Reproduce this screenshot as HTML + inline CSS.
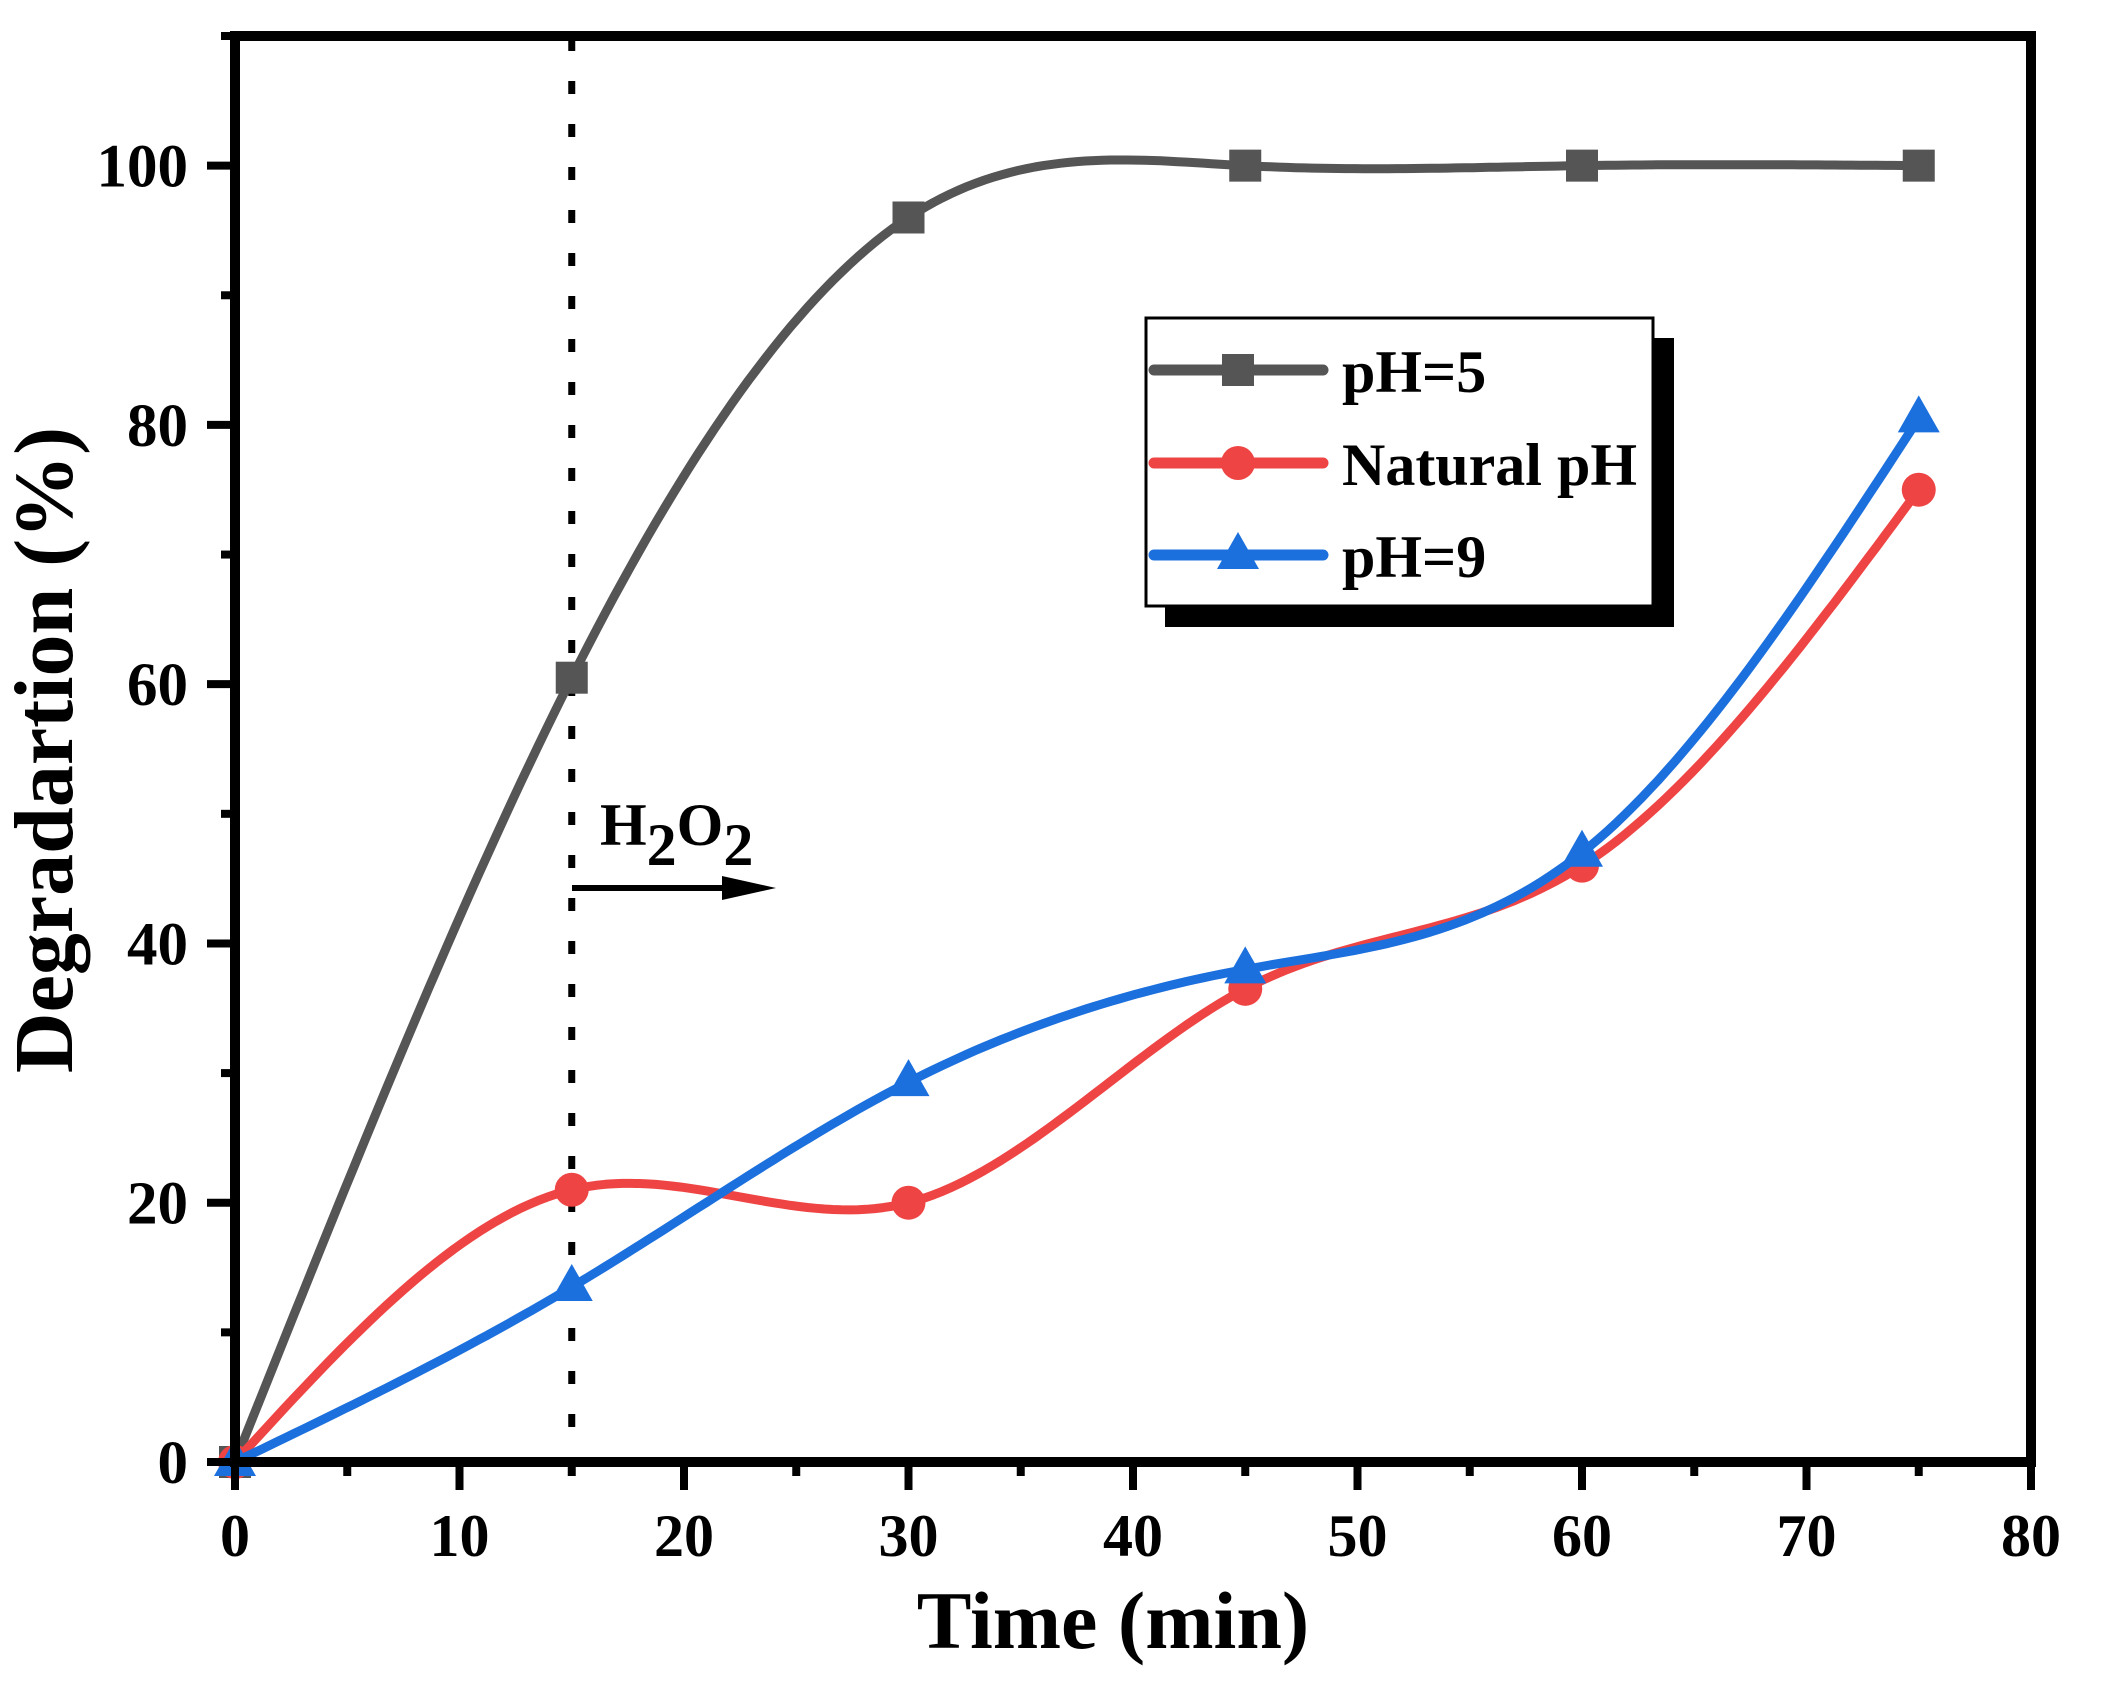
<!DOCTYPE html>
<html><head><meta charset="utf-8"><style>
html,body{margin:0;padding:0;background:#fff;}
svg{display:block;}
text{font-family:"Liberation Serif","Times New Roman",serif;font-weight:bold;fill:#000;}
</style></head>
<body>
<svg id="chart" width="2107" height="1682" viewBox="0 0 2107 1682" xmlns="http://www.w3.org/2000/svg">
<g id="plot"></g>
</svg>
<script>
const timeValues = [0, 15, 30, 45, 60, 75];
const ph5Values = [0, 60.5, 96, 100, 100, 100];
const naturalValues = [0, 21, 20, 36.5, 46, 75];
const ph9Values = [0, 13.5, 29.3, 38, 47, 80.5];
const xTickLabels = [0, 10, 20, 30, 40, 50, 60, 70, 80];
const yTickLabels = [0, 20, 40, 60, 80, 100];
const seriesNames = ["pH=5", "Natural pH", "pH=9"];

const NS = "http://www.w3.org/2000/svg";
const L = 235, R = 2031, T = 36, B = 1462;
const xMin = 0, xMax = 80, yMin = 0, yMax = 110;
function xs(v){ return L + (v - xMin) / (xMax - xMin) * (R - L); }
function ys(v){ return B - (v - yMin) / (yMax - yMin) * (B - T); }
const g = document.getElementById('plot');
function mk(tag, attrs, parent){
  const e = document.createElementNS(NS, tag);
  for (const k in attrs) e.setAttribute(k, attrs[k]);
  (parent || g).appendChild(e);
  return e;
}

// natural cubic spline
function spline(xa, ya){
  const n = xa.length, h = [], a = [], l = [1], mu = [0], z = [0], c = new Array(n).fill(0), b = [], d = [];
  for (let i = 0; i < n - 1; i++) h.push(xa[i+1] - xa[i]);
  for (let i = 1; i < n - 1; i++) a[i] = 3/h[i]*(ya[i+1]-ya[i]) - 3/h[i-1]*(ya[i]-ya[i-1]);
  for (let i = 1; i < n - 1; i++){
    l[i] = 2*(xa[i+1]-xa[i-1]) - h[i-1]*mu[i-1];
    mu[i] = h[i]/l[i];
    z[i] = (a[i] - h[i-1]*z[i-1])/l[i];
  }
  l[n-1] = 1; z[n-1] = 0;
  for (let j = n - 2; j >= 0; j--){
    c[j] = z[j] - mu[j]*c[j+1];
    b[j] = (ya[j+1]-ya[j])/h[j] - h[j]*(c[j+1]+2*c[j])/3;
    d[j] = (c[j+1]-c[j])/(3*h[j]);
  }
  let p = "";
  for (let j = 0; j < n - 1; j++){
    for (let s = 0; s <= 40; s++){
      const t = h[j]*s/40;
      const y = ya[j] + b[j]*t + c[j]*t*t + d[j]*t*t*t;
      p += (p ? "L" : "M") + xs(xa[j]+t).toFixed(1) + "," + ys(y).toFixed(1);
    }
  }
  return p;
}

// dashed H2O2 line
const dl = mk('line', {x1: xs(15), x2: xs(15), y1: T+2, y2: B, stroke: '#000', 'stroke-width': 7, 'stroke-dasharray': '13,30'});



// series
const series = [
  {vals: ph5Values, color: '#555555', marker: 'square', name: 'series-ph5'},
  {vals: naturalValues, color: '#EF4444', marker: 'circle', name: 'series-natural-ph'},
  {vals: ph9Values, color: '#1C70DD', marker: 'triangle', name: 'series-ph9'}
];
function marker(type, cx, cy, color, parent){
  let e;
  if (type === 'square') e = mk('rect', {x: cx-16, y: cy-16, width: 32, height: 32, fill: color}, parent);
  else if (type === 'circle') e = mk('circle', {cx: cx, cy: cy, r: 17, fill: color}, parent);
  else e = mk('polygon', {points: `${cx},${cy-23} ${cx+21},${cy+14} ${cx-21},${cy+14}`, fill: color}, parent);
  return e;
}
series.forEach(s => {
  const sg = mk('g', {});
  
  
  const p = mk('path', {d: spline(timeValues, s.vals), fill: 'none', stroke: s.color, 'stroke-width': 9, 'stroke-linejoin': 'round'}, sg);
  
  
  timeValues.forEach((t, i) => {
    const m = marker(s.marker, xs(t), ys(s.vals[i]), s.color, sg);
    
    
  });
});

// frame
const fr = mk('rect', {x: L, y: T, width: R-L, height: B-T, fill: 'none', stroke: '#000', 'stroke-width': 10});



// x ticks
for (let v = 0; v <= 80; v += 5){
  const major = v % 10 === 0;
  const t = mk('line', {x1: xs(v), x2: xs(v), y1: B, y2: B + (major ? 28 : 14), stroke: '#000', 'stroke-width': 8});
  
  
}
xTickLabels.forEach(v => {
  const t = mk('text', {x: xs(v), y: 1556, 'text-anchor': 'middle', 'font-size': 60});
  t.textContent = v;
  
  
});
// y ticks
for (let v = 0; v <= 110; v += 10){
  const major = v % 20 === 0;
  const t = mk('line', {x1: L - (major ? 28 : 14), x2: L, y1: ys(v), y2: ys(v), stroke: '#000', 'stroke-width': 8});
  
  
}
yTickLabels.forEach(v => {
  const t = mk('text', {x: 188, y: ys(v) + 21, 'text-anchor': 'end', 'font-size': 61});
  t.textContent = v;
  
  
});

// axis titles
const xt = mk('text', {x: (L+R)/2 - 20, y: 1648, 'text-anchor': 'middle', 'font-size': 82});
xt.textContent = 'Time (min)';


const yt = mk('text', {x: 0, y: 0, 'text-anchor': 'middle', 'font-size': 84, transform: 'translate(72,750) rotate(-90)'});
yt.textContent = 'Degradartion (%)';



// H2O2 annotation
const ag = mk('g', {});


mk('line', {x1: 572, x2: 730, y1: 888, y2: 888, stroke: '#000', 'stroke-width': 6}, ag);
mk('polygon', {points: '722,876 776,888 722,900', fill: '#000'}, ag);
const ht = mk('text', {x: 600, y: 845, 'font-size': 60}, ag);
ht.innerHTML = 'H<tspan dy="20" font-size="60">2</tspan><tspan dy="-20">O</tspan><tspan dy="20">2</tspan>';

// legend
const lg = mk('g', {});


mk('rect', {x: 1165, y: 338, width: 509, height: 289, fill: '#000'}, lg);
mk('rect', {x: 1146, y: 318, width: 507, height: 288, fill: '#fff', stroke: '#000', 'stroke-width': 3}, lg);
const rowsY = [370, 463, 555];
series.forEach((s, i) => {
  const eg = mk('g', {}, lg);
  
  
  mk('line', {x1: 1154, x2: 1323, y1: rowsY[i], y2: rowsY[i], stroke: s.color, 'stroke-width': 11, 'stroke-linecap': 'round'}, eg);
  marker(s.marker, 1238, rowsY[i], s.color, eg);
  const t = mk('text', {x: 1342, y: rowsY[i] + 22, 'font-size': 60}, eg);
  t.textContent = seriesNames[i];
});
</script>
</body></html>
